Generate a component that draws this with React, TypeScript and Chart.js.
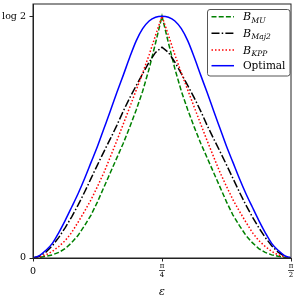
import React, { useEffect, useRef } from 'react';
import { Chart, registerables } from 'chart.js';

Chart.register(...registerables);

// epsilon grid (radians), 0 .. pi/2
const epsilon = [
  0, 0.0393, 0.0785, 0.1178, 0.1571, 0.1963, 0.2356, 0.2749, 0.3142, 0.3534,
  0.3927, 0.4320, 0.4712, 0.5105, 0.5498, 0.5890, 0.6283, 0.6676, 0.7069, 0.7461,
  0.7854, 0.8247, 0.8639, 0.9032, 0.9425, 0.9817, 1.0210, 1.0603, 1.0996, 1.1388,
  1.1781, 1.2174, 1.2566, 1.2959, 1.3352, 1.3744, 1.4137, 1.4530, 1.4923, 1.5315,
  1.5708,
];

const bMU = [
  0, 0.002, 0.005, 0.009, 0.016, 0.027, 0.044, 0.065, 0.093, 0.123,
  0.161, 0.203, 0.245, 0.287, 0.329, 0.375, 0.424, 0.478, 0.542, 0.616,
  0.693,
  0.616, 0.542, 0.478, 0.424, 0.375, 0.329, 0.287, 0.245, 0.203, 0.161,
  0.123, 0.093, 0.065, 0.044, 0.027, 0.016, 0.009, 0.005, 0.002, 0,
];

const bMaj2 = [
  0, 0.005, 0.017, 0.035, 0.059, 0.087, 0.118, 0.152, 0.189, 0.228,
  0.267, 0.305, 0.342, 0.380, 0.421, 0.459, 0.494, 0.528, 0.561, 0.589,
  0.604,
  0.589, 0.561, 0.528, 0.494, 0.459, 0.421, 0.380, 0.342, 0.305, 0.267,
  0.228, 0.189, 0.152, 0.118, 0.087, 0.059, 0.035, 0.017, 0.005, 0,
];

const bKPP = [
  0, 0.004, 0.009, 0.019, 0.033, 0.050, 0.073, 0.103, 0.134, 0.167,
  0.205, 0.245, 0.290, 0.336, 0.384, 0.432, 0.481, 0.530, 0.582, 0.638,
  0.693,
  0.638, 0.582, 0.530, 0.481, 0.432, 0.384, 0.336, 0.290, 0.245, 0.205,
  0.167, 0.134, 0.103, 0.073, 0.050, 0.033, 0.019, 0.009, 0.004, 0,
];

const optimal = [
  0, 0.007, 0.022, 0.042, 0.073, 0.108, 0.146, 0.185, 0.228, 0.274,
  0.320, 0.371, 0.422, 0.474, 0.524, 0.575, 0.622, 0.657, 0.679, 0.690,
  0.693,
  0.690, 0.679, 0.657, 0.622, 0.575, 0.524, 0.474, 0.422, 0.371, 0.320,
  0.274, 0.228, 0.185, 0.146, 0.108, 0.073, 0.042, 0.022, 0.007, 0,
];

const xTickValues = [0, 0.7854, 1.5708];
const xTickNum = ['0', 'π', 'π'];
const xTickDen = ['', '4', '2'];
const yTickValues = [0, 0.6931];
const yTickLabels = ['0', 'log 2'];
const xRange = [0, 1.5708];
const yRange = [0, 0.7278];
const axisTitle = 'ε';

const seriesNames = ['B_MU', 'B_Maj2', 'B_KPP', 'Optimal'];
const legendMain = ['B', 'B', 'B', 'Optimal'];
const legendSub = ['MU', 'Maj2', 'KPP', ''];
const seriesColors = ['#008000', '#000000', '#ff0000', '#0000ff'];
const seriesDash = [[5, 2.2], [8, 2.2, 1.5, 2.2], [1.5, 2], []];
const seriesData = [bMU, bMaj2, bKPP, optimal];
const seriesOrder = [3, 2, 1, 0];

const SERIF = '"DejaVu Serif", "Liberation Serif", serif';

const framePlugin = {
  id: 'frameAndLegend',
  afterDraw(chart: any) {
    const { ctx, chartArea } = chart;
    const xs = chart.scales.x;
    ctx.save();
    // frame
    ctx.strokeStyle = '#222';
    ctx.lineWidth = 1;
    ctx.strokeRect(chartArea.left, chartArea.top, chartArea.right - chartArea.left, chartArea.bottom - chartArea.top);

    // x tick labels (fractions)
    ctx.fillStyle = '#000';
    ctx.textAlign = 'center';
    ctx.textBaseline = 'middle';
    xTickValues.forEach((v, i) => {
      const px = xs.getPixelForValue(v);
      if (xTickDen[i]) {
        ctx.font = `7px ${SERIF}`;
        ctx.fillText(xTickNum[i], px, chartArea.bottom + 8.5);
        ctx.fillText(xTickDen[i], px, chartArea.bottom + 17);
        ctx.beginPath();
        ctx.lineWidth = 0.7;
        ctx.strokeStyle = '#000';
        ctx.moveTo(px - 3, chartArea.bottom + 12.5);
        ctx.lineTo(px + 3, chartArea.bottom + 12.5);
        ctx.stroke();
      } else {
        ctx.font = `9.5px ${SERIF}`;
        ctx.fillText(xTickNum[i], px, chartArea.bottom + 13.5);
      }
    });

    // legend
    const bx = 207.5, by = 9.5, bw = 82.5, bh = 66.5, r = 2.5;
    ctx.beginPath();
    ctx.moveTo(bx + r, by);
    ctx.lineTo(bx + bw - r, by);
    ctx.quadraticCurveTo(bx + bw, by, bx + bw, by + r);
    ctx.lineTo(bx + bw, by + bh - r);
    ctx.quadraticCurveTo(bx + bw, by + bh, bx + bw - r, by + bh);
    ctx.lineTo(bx + r, by + bh);
    ctx.quadraticCurveTo(bx, by + bh, bx, by + bh - r);
    ctx.lineTo(bx, by + r);
    ctx.quadraticCurveTo(bx, by, bx + r, by);
    ctx.closePath();
    ctx.fillStyle = 'rgba(255,255,255,0.85)';
    ctx.fill();
    ctx.strokeStyle = '#555';
    ctx.lineWidth = 1;
    ctx.stroke();

    const rows = [16.7, 33.3, 50, 65.7];
    rows.forEach((ry, i) => {
      ctx.beginPath();
      ctx.setLineDash(seriesDash[i]);
      ctx.strokeStyle = seriesColors[i];
      ctx.lineWidth = 1.5;
      ctx.moveTo(211.5, ry);
      ctx.lineTo(234, ry);
      ctx.stroke();
      ctx.setLineDash([]);
      ctx.fillStyle = '#000';
      ctx.textBaseline = 'alphabetic';
      ctx.textAlign = 'left';
      if (legendSub[i]) {
        ctx.font = `italic 11px ${SERIF}`;
        ctx.fillText(legendMain[i], 243, ry + 3.5);
        const w = ctx.measureText(legendMain[i]).width;
        ctx.font = `italic 7.5px ${SERIF}`;
        ctx.fillText(legendSub[i], 243 + w + 0.5, ry + 6);
      } else {
        ctx.font = `10.5px ${SERIF}`;
        ctx.fillText(legendMain[i], 243, ry + 3.5);
      }
    });
    ctx.restore();
  },
};

export default function App() {
  const ref = useRef<HTMLCanvasElement | null>(null);
  useEffect(() => {
    if (!ref.current) return;
    const chart = new Chart(ref.current, {
      type: 'line',
      data: {
        datasets: seriesData.map((vals, i) => ({
          label: seriesNames[i],
          data: epsilon.map((x, j) => ({ x, y: vals[j] })),
          borderColor: seriesColors[i],
          borderWidth: 1.5,
          borderDash: seriesDash[i],
          pointRadius: 0,
          fill: false,
          tension: 0,
          cubicInterpolationMode: i === 3 ? 'monotone' : 'default',
          order: seriesOrder[i],
        })),
      },
      options: {
        animation: false,
        responsive: false,
        events: [],
        layout: { padding: { top: 4, right: 9, left: 0, bottom: 0 } },
        plugins: { legend: { display: false }, tooltip: { enabled: false } },
        scales: {
          x: {
            type: 'linear',
            min: xRange[0],
            max: xRange[1],
            afterBuildTicks: (s: any) => { s.ticks = xTickValues.map((v) => ({ value: v })); },
            afterFit: (s: any) => { s.height = 42; s.paddingLeft = 0; s.paddingRight = 0; s.paddingTop = 0; s.paddingBottom = 0; },
            grid: { drawOnChartArea: false, drawTicks: true, tickLength: 3.5, color: '#222', tickWidth: 1 },
            border: { display: true, color: '#222', width: 1 },
            ticks: {
              autoSkip: false,
              maxRotation: 0,
              color: 'rgba(0,0,0,0)',
              font: { family: SERIF, size: 7 },
              callback: () => '',
            },
            title: {
              display: true,
              text: axisTitle,
              color: '#000',
              font: { family: SERIF, size: 11, style: 'italic' },
              padding: { top: 0, bottom: 1 },
            },
          },
          y: {
            type: 'linear',
            min: yRange[0],
            max: yRange[1],
            afterBuildTicks: (s: any) => { s.ticks = yTickValues.map((v) => ({ value: v })); },
            afterFit: (s: any) => { s.width = 33; s.paddingTop = 0; s.paddingBottom = 0; s.paddingLeft = 0; s.paddingRight = 0; },
            grid: { drawOnChartArea: false, drawTicks: true, tickLength: 3.5, color: '#222', tickWidth: 1 },
            border: { display: true, color: '#222', width: 1 },
            ticks: {
              autoSkip: false,
              padding: 3.5,
              color: '#000',
              font: { family: SERIF, size: 9.5 },
              callback: (_v: any, i: number) => yTickLabels[i],
            },
          },
        },
      },
      plugins: [framePlugin],
    } as any);
    return () => chart.destroy();
  }, []);
  return (
    <div style={{ position: 'fixed', left: 0, top: 0, width: 300, height: 300, background: '#fff' }}>
      <canvas ref={ref} width={300} height={300} style={{ display: 'block' }} />
    </div>
  );
}
